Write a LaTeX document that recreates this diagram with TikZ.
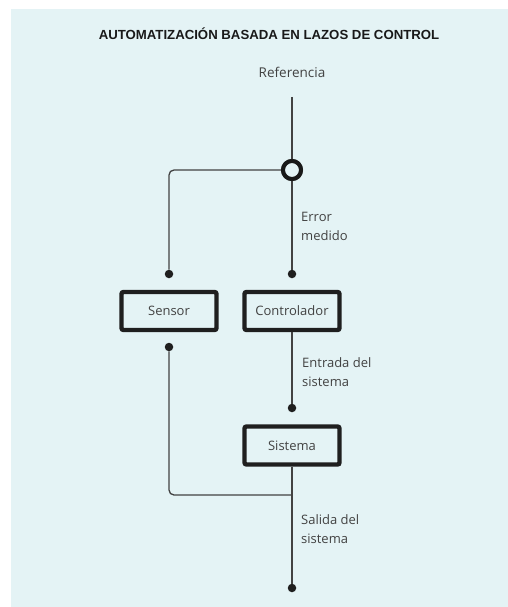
\documentclass[tikz,border=0pt]{standalone}
\usepackage{fontspec}
\setmainfont{Open Sans}
\newfontfamily\titlefont{Liberation Sans}
\definecolor{panel}{RGB}{228,243,245}
\definecolor{ink}{RGB}{66,66,66}
\begin{document}
\begin{tikzpicture}[x=1pt,y=-1pt,
  wire/.style={draw=ink,line width=1.3pt},
  block/.style={draw=black!88,line width=4.4pt,rounded corners=2pt,minimum width=95pt,
    minimum height=38pt,inner sep=0pt,text=ink,font=\fontsize{13}{15}\selectfont},
  lbl/.style={text=ink,font=\fontsize{13}{19.5}\selectfont,align=left,anchor=north west,inner sep=0pt},
  pin/.style={circle,fill=black!88,inner sep=0pt,minimum size=8.5pt},
  sumjunction/.style={circle,draw=black!90,line width=4pt,fill=panel,minimum size=18pt,inner sep=0pt}]
  \useasboundingbox (0,0) rectangle (508,607);
  \fill[white] (0,0) rectangle (508,607);
  \fill[panel] (11,9) rectangle (508,607);

  \node[text=black!90,font=\titlefont\bfseries\fontsize{13.2}{15}\selectfont] (title) at (269,34) {AUTOMATIZACIÓN BASADA EN LAZOS DE CONTROL};
  \node[text=ink,font=\fontsize{13.5}{15}\selectfont] (ref) at (292,72) {Referencia};

  \node[sumjunction] (sum) at (292,170) {};
  \coordinate (reftop) at (292,97);

  \node[block] (sensor) at (169,311) {Sensor};
  \node[block] (ctrl) at (292,311) {Controlador};
  \node[block] (sys) at (292,445.5) {Sistema};

  \node[pin] (pS1) at (169,274) {};
  \node[pin] (pC1) at (292,274) {};
  \node[pin] (pS2) at (169,347) {};
  \node[pin] (pY1) at (292,408) {};
  \node[pin] (pOut) at (292,588) {};
  \coordinate (fb) at (292,495);

  \draw[wire] (reftop) -- (sum);
  \draw[wire] (sum) -- (pC1);
  \draw[wire,rounded corners=5pt] (sum) -| (pS1);
  \draw[wire] (ctrl) -- (pY1);
  \draw[wire] (sys) -- (pOut);
  \draw[wire,rounded corners=5pt] (pS2) |- (fb);
  \node[sumjunction] at (sum) {};

  \node[lbl] (err) at (301,212) {Error\\medido};
  \node[lbl] (inp) at (302,357) {Entrada del\\sistema};
  \node[lbl] (out) at (301,514) {Salida del\\sistema};
\end{tikzpicture}
\end{document}
